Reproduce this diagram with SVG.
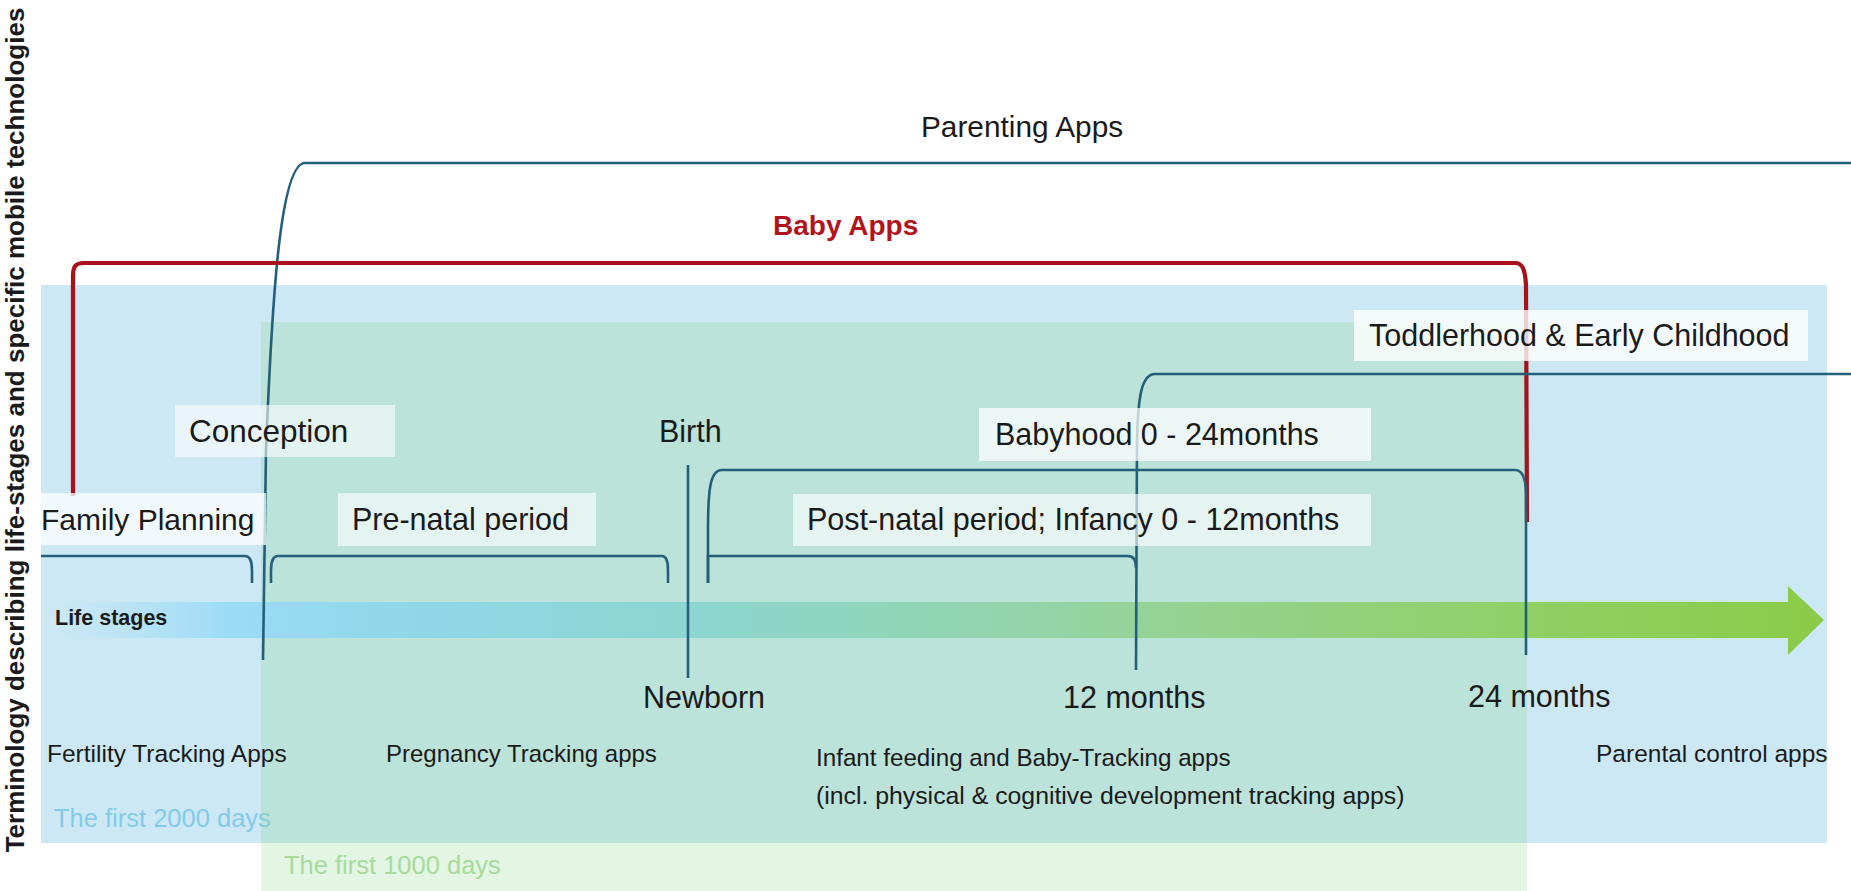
<svg xmlns="http://www.w3.org/2000/svg" width="1851" height="891" viewBox="0 0 1851 891">
  <style>
    text { font-family: "Liberation Sans", Arial, sans-serif; fill: #1a1a1a; }
    .lbl { font-size: 30.5px; }
    .app { font-size: 24.5px; }
    .box { fill: #ffffff; }
    .teal { fill: none; stroke: #235f78; stroke-width: 2.6; }
    .red { fill: none; stroke: #a8101a; stroke-width: 4.2; }
  </style>
  <defs>
    <linearGradient id="lifeGrad" gradientUnits="userSpaceOnUse" x1="53" y1="0" x2="1824" y2="0">
      <stop offset="0" stop-color="#a8def6" stop-opacity="0"/>
      <stop offset="0.1" stop-color="#9cdbf6"/>
      <stop offset="0.21" stop-color="#90d6e8"/>
      <stop offset="0.365" stop-color="#8dd5cf"/>
      <stop offset="0.51" stop-color="#92d5b2"/>
      <stop offset="0.65" stop-color="#95d28f"/>
      <stop offset="0.84" stop-color="#90d064"/>
      <stop offset="1" stop-color="#8bcb48"/>
    </linearGradient>
  </defs>

  <rect width="1851" height="891" fill="#ffffff"/>

  <g id="first-2000-days">
    <rect x="41" y="285" width="1786" height="558" fill="#cce8f4"/>
    <text x="54" y="827" style="font-size:25.5px;fill:#84cbea">The first 2000 days</text>
  </g>
  <g id="first-1000-days">
    <rect x="261" y="322" width="1266" height="569" fill="#8ad48a" fill-opacity="0.24"/>
    <text x="284" y="874" style="font-size:25.5px;fill:#a6db9c">The first 1000 days</text>
  </g>

  <g id="life-stages-arrow">
    <path d="M53 602 L1788 602 L1788 586 L1824 620 L1788 655 L1788 638 L53 638 Z" fill="url(#lifeGrad)"/>
    <text x="55" y="625" style="font-size:21.5px;font-weight:bold">Life stages</text>
  </g>

  <g id="connectors">
    <!-- Parenting Apps bracket / conception marker -->
    <path class="teal" d="M263 660 L266 450 C272 300 280 163 305 163 L1851 163"/>
    <!-- Baby Apps bracket -->
    <path class="red" d="M73 496 L73 276 C73 267 75 263 84 263 L1515 263 C1522 263 1525 268 1526 285 L1527 522"/>
    <!-- Family planning bracket -->
    <path class="teal" d="M41 556 L245 556 C250 556 252 560 252 570 L252 583"/>
    <!-- Pre-natal bracket -->
    <path class="teal" d="M271 583 L271 570 C271 560 273 556 278 556 L662 556 C666 556 668 560 668 570 L668 583"/>
    <!-- Birth marker -->
    <path class="teal" d="M688 465 L688 678"/>
    <!-- Post-natal bracket -->
    <path class="teal" d="M708 583 L708 556 L1128 556 C1133 556 1136 560 1136 568"/>
    <!-- Babyhood bracket / 24 months marker -->
    <path class="teal" d="M708 583 L708 530 C708 490 710 470 722 470 L1515 470 C1522 470 1526 478 1526 495 L1526 655"/>
    <!-- Toddlerhood bracket / 12 months marker -->
    <path class="teal" d="M1136 670 L1137 440 C1138 395 1142 374 1155 374 L1851 374"/>
  </g>

  <g id="parenting-apps">
    <text x="921" y="137" style="font-size:29.8px">Parenting Apps</text>
  </g>
  <g id="baby-apps">
    <text x="773" y="235" style="font-size:28px;font-weight:bold;fill:#b2141b">Baby Apps</text>
  </g>

  <g id="conception">
    <rect class="box" x="175" y="405" width="220" height="52" fill-opacity="0.58"/>
    <text class="lbl" x="189" y="442" style="font-size:31.5px">Conception</text>
  </g>
  <g id="family-planning">
    <rect class="box" x="41" y="493" width="225" height="52" fill-opacity="0.75"/>
    <text class="lbl" x="41" y="530" style="font-size:30px">Family Planning</text>
  </g>
  <g id="pre-natal">
    <rect class="box" x="338" y="493" width="258" height="53" fill-opacity="0.6"/>
    <text class="lbl" x="352" y="530">Pre-natal period</text>
  </g>
  <g id="birth">
    <text class="lbl" x="659" y="442">Birth</text>
  </g>
  <g id="babyhood">
    <rect class="box" x="979" y="408" width="392" height="53" fill-opacity="0.72"/>
    <text class="lbl" x="995" y="445">Babyhood 0 - 24months</text>
  </g>
  <g id="post-natal">
    <rect class="box" x="793" y="494" width="578" height="52" fill-opacity="0.62"/>
    <text class="lbl" x="807" y="530">Post-natal period; Infancy 0 - 12months</text>
  </g>
  <g id="toddlerhood">
    <rect class="box" x="1354" y="310" width="454" height="51" fill-opacity="0.8"/>
    <text class="lbl" x="1369" y="346">Toddlerhood &amp; Early Childhood</text>
  </g>

  <g id="newborn"><text class="lbl" x="643" y="708">Newborn</text></g>
  <g id="m12"><text class="lbl" x="1063" y="708">12 months</text></g>
  <g id="m24"><text class="lbl" x="1468" y="707">24 months</text></g>

  <g id="fertility-apps"><text class="app" x="47" y="762">Fertility Tracking Apps</text></g>
  <g id="pregnancy-apps"><text class="app" x="386" y="762" style="font-size:24px">Pregnancy Tracking apps</text></g>
  <g id="infant-apps">
    <text class="app" x="816" y="766" style="font-size:24.2px">Infant feeding and Baby-Tracking apps</text>
    <text class="app" x="816" y="804" style="font-size:24.8px">(incl. physical &amp; cognitive development tracking apps)</text>
  </g>
  <g id="parental-control-apps"><text class="app" x="1596" y="762">Parental control apps</text></g>

  <g id="axis-title">
    <text transform="translate(24 430) rotate(-90)" text-anchor="middle" style="font-size:26px;font-weight:bold">Terminology describing life-stages and specific mobile technologies</text>
  </g>
</svg>
